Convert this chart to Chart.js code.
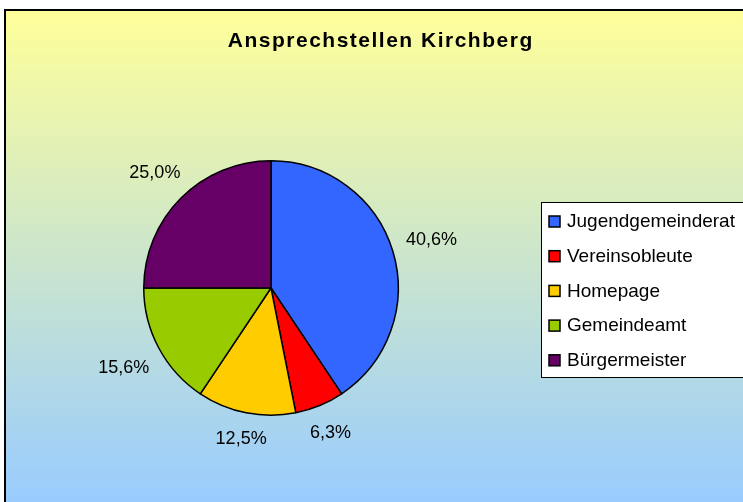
<!DOCTYPE html>
<html>
<head>
<meta charset="utf-8">
<script src="https://cdn.jsdelivr.net/npm/chart.js@4/dist/chart.umd.min.js"></script>
<style>
  html, body { margin: 0; padding: 0; background: #fff; }
  canvas { display: block; }
</style>
</head>
<body>
<canvas id="myChart" width="743" height="502"></canvas>
<script>
const title = "Ansprechstellen Kirchberg";
const labels = ["Jugendgemeinderat", "Vereinsobleute", "Homepage", "Gemeindeamt", "Bürgermeister"];
const values = [13, 2, 4, 5, 8];
const colors = ["#3366FF", "#FF0000", "#FFCC00", "#99CC00", "#660066"];

const FONT = "Arial, 'Liberation Sans', sans-serif";

// background, title, legend box and percent labels (Excel style)
const excelLook = {
  id: "excelLook",
  beforeDraw(chart) {
    const ctx = chart.ctx;
    const w = chart.width, h = chart.height;
    ctx.save();
    ctx.fillStyle = "#fff";
    ctx.fillRect(0, 0, w, h);
    const grad = ctx.createLinearGradient(0, 9, 0, h);
    grad.addColorStop(0, "#FFFF99");
    grad.addColorStop(1, "#99CCFF");
    ctx.fillStyle = grad;
    ctx.fillRect(4, 9, w - 4, h - 9);
    ctx.strokeStyle = "#000";
    ctx.lineWidth = 2;
    ctx.beginPath();
    ctx.moveTo(5, h);
    ctx.lineTo(5, 10);
    ctx.lineTo(w, 10);
    ctx.stroke();
    ctx.restore();
  },
  afterDraw(chart) {
    const ctx = chart.ctx;
    ctx.save();

    // title
    ctx.fillStyle = "#000";
    ctx.font = "bold 21px " + FONT;
    ctx.letterSpacing = "1.5px";
    ctx.textAlign = "left";
    ctx.textBaseline = "alphabetic";
    const tw0 = ctx.measureText(title).width - 1.5;
    ctx.fillText(title, 380 - tw0 / 2, 47);
    ctx.letterSpacing = "0px";

    // percent labels outside the slices
    const meta = chart.getDatasetMeta(0);
    const total = values.reduce((a, b) => a + b, 0);
    ctx.font = "18px " + FONT;
    ctx.textAlign = "center";
    ctx.textBaseline = "middle";
    meta.data.forEach((arc, i) => {
      const mid = (arc.startAngle + arc.endAngle) / 2;
      const dx = Math.cos(mid), dy = Math.sin(mid);
      const txt = (values[i] / total * 100).toFixed(1).replace(".", ",") + "%";
      const tw = ctx.measureText(txt).width;
      const th = 14;
      const d = arc.outerRadius + 14 + Math.abs(dx) * tw / 2 + Math.abs(dy) * th / 2;
      ctx.fillText(txt, arc.x + dx * d, arc.y + dy * d + 1);
    });

    // legend
    const lx = 541, ly = 202, lw = 210, lh = 175;
    ctx.fillStyle = "#fff";
    ctx.fillRect(lx, ly, lw, lh);
    ctx.strokeStyle = "#000";
    ctx.lineWidth = 1;
    ctx.strokeRect(lx + 0.5, ly + 0.5, lw, lh);
    ctx.font = "19px " + FONT;
    ctx.textAlign = "left";
    labels.forEach((lab, i) => {
      const cy = 221 + i * 34.7;
      ctx.fillStyle = colors[i];
      ctx.fillRect(549, cy - 5, 11, 11);
      ctx.strokeStyle = "#000";
      ctx.lineWidth = 1.5;
      ctx.strokeRect(549, cy - 5, 11, 11);
      ctx.fillStyle = "#000";
      ctx.fillText(lab, 567, cy + 1);
    });
    ctx.restore();
  }
};

new Chart(document.getElementById("myChart"), {
  type: "pie",
  data: {
    labels: labels,
    datasets: [{
      data: values,
      backgroundColor: colors,
      borderColor: "#000",
      borderWidth: 1.5
    }]
  },
  options: {
    responsive: false,
    animation: false,
    layout: { padding: { left: 143, right: 344, top: 160, bottom: 86 } },
    plugins: {
      legend: { display: false },
      tooltip: { enabled: false },
      title: { display: false }
    }
  },
  plugins: [excelLook]
});
</script>
</body>
</html>
